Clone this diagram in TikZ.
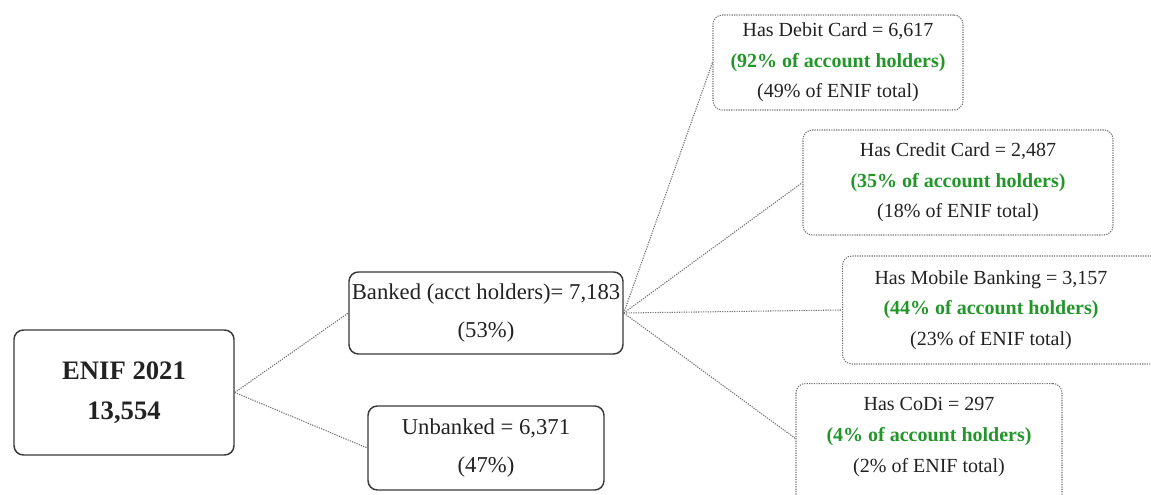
\documentclass[tikz,border=0pt]{standalone}
\usepackage{fontspec}
\setmainfont{Liberation Serif}
\def\pxu{0.75pt}
\definecolor{inkc}{HTML}{222222}
\definecolor{edgec}{HTML}{3A3A3A}
\definecolor{dotc}{HTML}{707070}
\definecolor{greenc}{HTML}{23962A}
\tikzset{
  solidbox/.style={draw=edgec, line width=1.1pt, rounded corners=7pt, inner sep=0pt,
    align=center, text=inkc},
  dotbox/.style={draw=dotc, line width=0.8pt, dash pattern=on 0.9pt off 0.9pt,
    rounded corners=7pt, inner sep=0pt, align=center, text=inkc},
  link/.style={draw=dotc, line width=0.8pt, dash pattern=on 0.9pt off 0.9pt},
  lvltwo/.style={font=\fontsize{17}{28}\selectfont},
  lvlthree/.style={font=\fontsize{15}{23}\selectfont},
}
\newcommand{\hl}[1]{\textcolor{greenc}{\textbf{#1}}}
\begin{document}
\begin{tikzpicture}[x=0.75pt, y=-0.75pt]
\clip (0,0) rectangle (1151,495);
\fill[white] (0,0) rectangle (1151,495);

% root
\node[solidbox, minimum width=220*\pxu, minimum height=125*\pxu,
  font=\fontsize{20}{30}\selectfont\bfseries] (enif) at (124,392.5)
  {ENIF 2021\\13,554};

% second level
\node[solidbox, lvltwo, minimum width=274*\pxu, minimum height=82*\pxu] (banked) at (486,313)
  {Banked (acct holders)= 7,183\\(53\%)};
\node[solidbox, lvltwo, minimum width=236*\pxu, minimum height=84*\pxu] (unbanked) at (486,448)
  {Unbanked = 6,371\\(47\%)};

% third level
\node[dotbox, lvlthree, minimum width=250*\pxu, minimum height=95*\pxu] (debit) at (838,62.5)
  {Has Debit Card = 6,617\\\hl{(92\% of account holders)}\\(49\% of ENIF total)};
\node[dotbox, lvlthree, minimum width=310*\pxu, minimum height=105*\pxu] (credit) at (958,182.5)
  {Has Credit Card = 2,487\\\hl{(35\% of account holders)}\\(18\% of ENIF total)};
\node[dotbox, minimum width=330*\pxu, minimum height=108*\pxu, anchor=west] (mobile) at (842,310) {};
\node[lvlthree, align=center, text=inkc, inner sep=0pt] (mobiletext) at (991,310)
  {Has Mobile Banking = 3,157\\\hl{(44\% of account holders)}\\(23\% of ENIF total)};
\node[dotbox, minimum width=266*\pxu, minimum height=122*\pxu, anchor=north] (codi) at (929,383) {};
\node[lvlthree, align=center, text=inkc, inner sep=0pt] (coditext) at (929,437)
  {Has CoDi = 297\\\hl{(4\% of account holders)}\\(2\% of ENIF total)};
\coordinate (codiin) at ([yshift=4.5pt]codi.west);

% connectors
\draw[link] (enif.east) -- (banked.west);
\draw[link] (enif.east) -- (unbanked.west);
\draw[link] (banked.east) -- (debit.west);
\draw[link] (banked.east) -- (credit.west);
\draw[link] (banked.east) -- (mobile.west);
\draw[link] (banked.east) -- (codiin);
\end{tikzpicture}
\end{document}
